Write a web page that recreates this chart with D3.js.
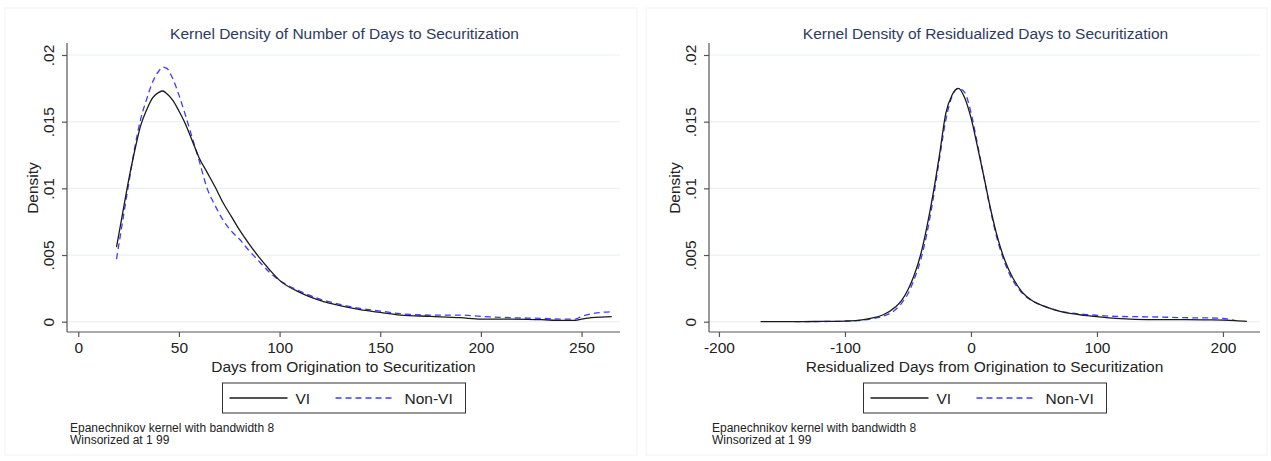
<!DOCTYPE html>
<html>
<head>
<meta charset="utf-8">
<script src="https://cdnjs.cloudflare.com/ajax/libs/d3/7.8.5/d3.min.js"></script>
<style>
  body { margin: 0; background: #fff; }
  svg { display: block; font-family: "Liberation Sans", Arial, sans-serif; }
  .grid line { stroke: #eaf1f2; stroke-width: 1.2; }
  .axis path, .axis line { stroke: #555; stroke-width: 1.2; }
  .axis text { fill: #222; font-size: 15.5px; }
</style>
</head>
<body>
<svg id="chart" width="1271" height="461"></svg>
<script>
const seriesNames = ['VI', 'Non-VI']
const yTicks = [0, 0.005, 0.01, 0.015, 0.02]
const yTickLabels = ['0', '.005', '.01', '.015', '.02']
const noteLines = ['Epanechnikov kernel with bandwidth 8', 'Winsorized at 1 99']

// panel 1: days from origination to securitization
const daysX = [19, 22, 25, 28, 31, 34, 37, 40, 42, 44, 47, 50, 53, 56, 60, 64, 68, 72, 76, 80, 85, 90, 95, 100,
  110, 120, 130, 140, 150, 160, 175, 190, 200, 215, 230, 240, 247, 250, 255, 260, 265]
const daysVI = [0.0056, 0.0081, 0.0106, 0.0128, 0.0147, 0.0159, 0.0168, 0.0172, 0.0173, 0.0171, 0.0166, 0.0158,
  0.0149, 0.0138, 0.0123, 0.0112, 0.0101, 0.0089, 0.0079, 0.0069, 0.0058, 0.0048, 0.0039, 0.0031,
  0.0022, 0.0016, 0.0012, 0.0009, 0.0007, 0.0005, 0.0004, 0.0003, 0.0002, 0.0002, 0.00015, 0.0001,
  0.0001, 0.0002, 0.0003, 0.00035, 0.00038]
const daysNonVI = [0.0047, 0.0075, 0.0103, 0.0130, 0.0152, 0.0167, 0.0180, 0.0188, 0.0191, 0.0190, 0.0182, 0.0170,
  0.0156, 0.0141, 0.0121, 0.0100, 0.0087, 0.0076, 0.0068, 0.0062, 0.0053, 0.0045, 0.0037, 0.0031,
  0.0023, 0.0017, 0.0013, 0.0010, 0.0008, 0.0006, 0.0005, 0.0005, 0.0004, 0.0003, 0.00025, 0.0002,
  0.0002, 0.0004, 0.0006, 0.0007, 0.00075]
const daysTicks = [0, 50, 100, 150, 200, 250]

// panel 2: residualized days
const residX = [-167, -140, -120, -100, -90, -80, -70, -60, -55, -50, -45, -40, -35, -30, -25, -20, -15, -10, -5,
  0, 5, 10, 15, 20, 25, 30, 40, 50, 60, 70, 80, 90, 100, 115, 130, 150, 170, 190, 200, 210, 219]
const residVI = [0, 0, 0.00002, 0.00005, 0.0001, 0.00025, 0.0005, 0.0011, 0.0016, 0.0024, 0.0035, 0.0050, 0.0071,
  0.0096, 0.0125, 0.0156, 0.0170, 0.0175, 0.0168, 0.0153, 0.0132, 0.0110, 0.0087, 0.0067, 0.0051,
  0.0039, 0.0023, 0.0015, 0.0011, 0.0008, 0.0006, 0.00048, 0.00038, 0.00025, 0.00018, 0.00016,
  0.00016, 0.00014, 0.00012, 0.00008, 0.00002]
const residNonVI = [null, 0, 0.00001, 0.00004, 0.00008, 0.0002, 0.0004, 0.0009, 0.0014, 0.0021, 0.0032, 0.0046,
  0.0066, 0.0092, 0.0122, 0.0151, 0.0169, 0.0175, 0.0172, 0.0157, 0.0134, 0.0110, 0.0086, 0.0065,
  0.0049, 0.0037, 0.0022, 0.0015, 0.0011, 0.0008, 0.00065, 0.00055, 0.00048, 0.0004, 0.00038,
  0.00035, 0.0003, 0.00028, 0.00024, 0.00008, null]
const residTicks = [-200, -100, 0, 100, 200]

const svg = d3.select('#chart')

function drawPanel(opts) {
  const { left, right, title, xLabel, xDomain, xTicks, xs, vi, nonVi, frame } = opts
  const top = 55, bottom = 321.7, axisY = 332

  svg.append('rect')
    .attr('x', frame[0]).attr('y', 8)
    .attr('width', frame[1] - frame[0]).attr('height', 447)
    .attr('fill', 'none').attr('stroke', '#f3f3f3')

  const x = d3.scaleLinear().domain(xDomain).range([left, right])
  const y = d3.scaleLinear().domain([0, 0.02]).range([bottom, top])

  const g = svg.append('g')

  g.append('g').attr('class', 'grid')
    .selectAll('line').data(yTicks).enter().append('line')
    .attr('x1', left).attr('x2', right)
    .attr('y1', (d) => y(d)).attr('y2', (d) => y(d))

  const yAxis = g.append('g').attr('class', 'axis')
    .attr('transform', 'translate(' + left + ',0)')
    .call(d3.axisLeft(y).tickValues(yTicks).tickSize(5)
      .tickFormat((d, i) => yTickLabels[i]))
  yAxis.select('.domain').attr('d', 'M0,' + (top - 12) + 'V' + axisY)
  yAxis.selectAll('.tick text')
    .attr('x', 0).attr('dy', 0).attr('text-anchor', 'middle')
    .attr('transform', 'translate(-13,0) rotate(-90)')

  const xAxis = g.append('g').attr('class', 'axis')
    .attr('transform', 'translate(0,' + axisY + ')')
    .call(d3.axisBottom(x).tickValues(xTicks).tickSize(5).tickPadding(4)
      .tickFormat((d) => String(d)))
  xAxis.select('.domain').attr('d', 'M' + left + ',0H' + right)
  xAxis.selectAll('text').attr('dy', '0.8em')

  g.append('text')
    .attr('transform', 'translate(' + (left - 29.5) + ',' + 188 + ') rotate(-90)')
    .attr('text-anchor', 'middle').attr('font-size', 15.5).attr('fill', '#222')
    .text('Density')

  g.append('text')
    .attr('x', (left + right) / 2).attr('y', 372)
    .attr('text-anchor', 'middle').attr('font-size', 15.5).attr('fill', '#222')
    .text(xLabel)

  g.append('text')
    .attr('x', (left + right) / 2 + 1).attr('y', 39)
    .attr('text-anchor', 'middle').attr('font-size', 15.5).attr('fill', '#2e3b5e')
    .text(title)

  const line = (vals) => d3.line()
    .defined((d, i) => vals[i] !== null)
    .x((d) => x(d))
    .y((d, i) => y(vals[i]))
    .curve(d3.curveMonotoneX)(xs)

  g.append('path').attr('d', line(nonVi))
    .attr('fill', 'none').attr('stroke', '#3d3dff').attr('stroke-width', 1.3)
    .attr('stroke-dasharray', '6,4')
  g.append('path').attr('d', line(vi))
    .attr('fill', 'none').attr('stroke', '#1a1a1a').attr('stroke-width', 1.3)

  // legend
  const cx = (left + right) / 2
  const lg = g.append('g').attr('transform', 'translate(' + (cx - 121) + ',383)')
  lg.append('rect').attr('width', 243).attr('height', 30)
    .attr('fill', '#fff').attr('stroke', '#333').attr('stroke-width', 1)
  lg.append('line').attr('x1', 7).attr('x2', 65).attr('y1', 15).attr('y2', 15)
    .attr('stroke', '#1a1a1a').attr('stroke-width', 1.3)
  lg.append('text').attr('x', 73).attr('y', 21).attr('font-size', 15.5).attr('fill', '#222')
    .text(seriesNames[0])
  lg.append('line').attr('x1', 113).attr('x2', 173).attr('y1', 15).attr('y2', 15)
    .attr('stroke', '#3d3dff').attr('stroke-width', 1.3).attr('stroke-dasharray', '6,4')
  lg.append('text').attr('x', 182).attr('y', 21).attr('font-size', 15.5).attr('fill', '#222')
    .text(seriesNames[1])

  g.append('g').selectAll('text').data(noteLines).enter().append('text')
    .attr('x', left + 3).attr('y', (d, i) => 432 + i * 12)
    .attr('font-size', 12).attr('fill', '#222')
    .text((d) => d)
}

drawPanel({
  left: 67, right: 620,
  title: 'Kernel Density of Number of Days to Securitization',
  xLabel: 'Days from Origination to Securitization',
  xDomain: [-5.6, 269.1], xTicks: daysTicks,
  xs: daysX, vi: daysVI, nonVi: daysNonVI,
  frame: [5, 637]
})

drawPanel({
  left: 709, right: 1260,
  title: 'Kernel Density of Residualized Days to Securitization',
  xLabel: 'Residualized Days from Origination to Securitization',
  xDomain: [-207.9, 229.4], xTicks: residTicks,
  xs: residX, vi: residVI, nonVi: residNonVI,
  frame: [646, 1267]
})
</script>
</body>
</html>
